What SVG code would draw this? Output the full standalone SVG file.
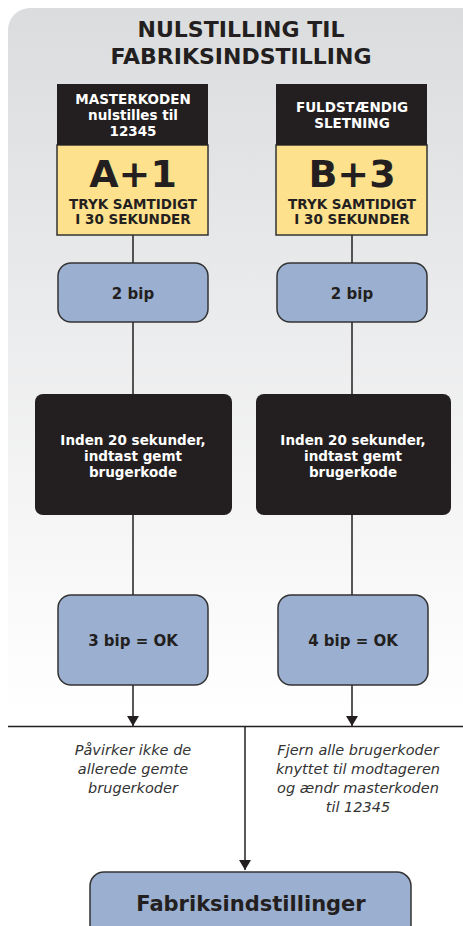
<svg xmlns="http://www.w3.org/2000/svg" width="463" height="926" viewBox="0 0 463 926">
<style>
text{font-family:"DejaVu Sans","Liberation Sans",sans-serif;text-anchor:middle}
.b{font-weight:bold}
.w{fill:#ffffff}
.k{fill:#231f20}
.it{font-style:italic;fill:#333333;font-size:14.5px}
.blue{fill:#9bafd0;stroke:#333333;stroke-width:1.5}
.blk{fill:#231f20}
.yel{fill:#fee18c;stroke:#333333;stroke-width:1.5}
.ln{stroke:#231f20;stroke-width:1.5;fill:none}
</style>
<defs>
<linearGradient id="bg" x1="0" y1="0" x2="0" y2="1" gradientUnits="objectBoundingBox">
<stop offset="0" stop-color="#dbdcde"/>
<stop offset="0.75" stop-color="#ffffff"/>
</linearGradient>
<marker id="ar" viewBox="0 0 10 12" refX="10" refY="6" markerWidth="10" markerHeight="12" markerUnits="userSpaceOnUse" orient="auto">
<path d="M0,0 L10,6 L0,12 Z" fill="#231f20"/>
</marker>
</defs>
<rect x="0" y="0" width="463" height="926" fill="#ffffff"/>
<rect x="8" y="8" width="475" height="940" rx="22" fill="url(#bg)"/>
<g id="title">
<text class="b k" x="241" y="37" font-size="22">NULSTILLING TIL</text>
<text class="b k" x="241" y="64" font-size="22">FABRIKSINDSTILLING</text>
</g>
<g id="connectors">
<line class="ln" x1="133" y1="235" x2="133" y2="263"/>
<line class="ln" x1="133" y1="322" x2="133" y2="394"/>
<line class="ln" x1="133" y1="515" x2="133" y2="595"/>
<line class="ln" x1="133" y1="685" x2="133" y2="726" marker-end="url(#ar)"/>
<line class="ln" x1="352" y1="235" x2="352" y2="263"/>
<line class="ln" x1="352" y1="322" x2="352" y2="394"/>
<line class="ln" x1="352" y1="515" x2="352" y2="595"/>
<line class="ln" x1="352" y1="685" x2="352" y2="726" marker-end="url(#ar)"/>
<line class="ln" x1="8" y1="726.5" x2="463" y2="726.5"/>
<line class="ln" x1="245" y1="727" x2="245" y2="870" marker-end="url(#ar)"/>
</g>
<g id="nodeA">
<rect class="yel" x="57" y="145" width="151" height="90"/>
<rect class="blk" x="57" y="84" width="151" height="61"/>
<text class="b w" x="133" y="104" font-size="13.5">MASTERKODEN</text>
<text class="b w" x="133" y="120" font-size="13.5">nulstilles til</text>
<text class="b w" x="133" y="136" font-size="13.5">12345</text>
<text class="b k" x="133" y="187" font-size="38">A+1</text>
<text class="b k" x="133" y="209" font-size="13.5">TRYK SAMTIDIGT</text>
<text class="b k" x="133" y="224" font-size="13.5">I 30 SEKUNDER</text>
</g>
<g id="nodeB">
<rect class="yel" x="276" y="145" width="151" height="90"/>
<rect class="blk" x="276" y="84" width="151" height="61"/>
<text class="b w" x="352" y="112" font-size="13.5">FULDSTÆNDIG</text>
<text class="b w" x="352" y="128" font-size="13.5">SLETNING</text>
<text class="b k" x="352" y="187" font-size="38">B+3</text>
<text class="b k" x="352" y="209" font-size="13.5">TRYK SAMTIDIGT</text>
<text class="b k" x="352" y="224" font-size="13.5">I 30 SEKUNDER</text>
</g>
<g id="bipA">
<rect class="blue" x="58" y="263" width="150" height="59" rx="13"/>
<text class="b k" x="133" y="299" font-size="15">2 bip</text>
</g>
<g id="bipB">
<rect class="blue" x="277" y="263" width="150" height="59" rx="13"/>
<text class="b k" x="352" y="299" font-size="15">2 bip</text>
</g>
<g id="codeA">
<rect class="blk" x="35" y="394" width="197" height="121" rx="8"/>
<text class="b w" x="133" y="445" font-size="13.5">Inden 20 sekunder,</text>
<text class="b w" x="133" y="461" font-size="13.5">indtast gemt</text>
<text class="b w" x="133" y="477" font-size="13.5">brugerkode</text>
</g>
<g id="codeB">
<rect class="blk" x="256" y="394" width="195" height="121" rx="8"/>
<text class="b w" x="353" y="445" font-size="13.5">Inden 20 sekunder,</text>
<text class="b w" x="353" y="461" font-size="13.5">indtast gemt</text>
<text class="b w" x="353" y="477" font-size="13.5">brugerkode</text>
</g>
<g id="okA">
<rect class="blue" x="58" y="595" width="150" height="90" rx="13"/>
<text class="b k" x="133" y="646" font-size="15">3 bip = OK</text>
</g>
<g id="okB">
<rect class="blue" x="278" y="595" width="150" height="90" rx="13"/>
<text class="b k" x="353" y="646" font-size="15">4 bip = OK</text>
</g>
<g id="noteA">
<text class="it" x="133" y="755">Påvirker ikke de</text>
<text class="it" x="133" y="774">allerede gemte</text>
<text class="it" x="133" y="793">brugerkoder</text>
</g>
<g id="noteB">
<text class="it" x="358" y="755">Fjern alle brugerkoder</text>
<text class="it" x="358" y="774">knyttet til modtageren</text>
<text class="it" x="358" y="793">og ændr masterkoden</text>
<text class="it" x="358" y="812">til 12345</text>
</g>
<g id="factory">
<rect class="blue" x="90" y="872" width="321" height="80" rx="14"/>
<text class="b k" x="251" y="911" font-size="21">Fabriksindstillinger</text>
</g>
</svg>
